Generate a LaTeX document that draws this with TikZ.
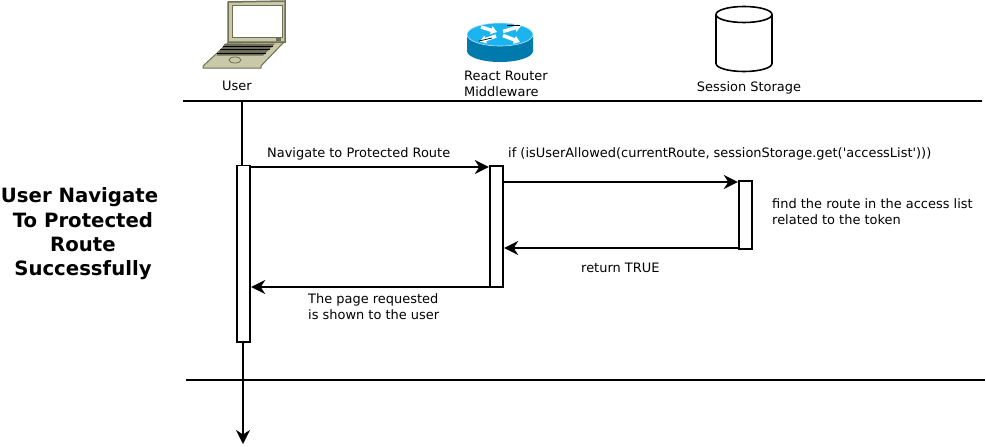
\documentclass[tikz,border=0pt]{standalone}
\usepackage{fontspec}
\setmainfont{DejaVu Sans}
\usetikzlibrary{arrows.meta}
\definecolor{lapbody}{HTML}{C9C9A9}
\definecolor{lapedge}{HTML}{6E6E55}
\definecolor{routertop}{HTML}{1BB4EE}
\definecolor{routerside}{HTML}{0079AC}
\tikzset{
  lbl/.style={inner sep=0pt,font=\fontsize{12.95}{16}\selectfont,align=left},
  bar/.style={draw,line width=1.8pt,fill=white,minimum width=13.6pt,inner sep=0pt},
  msg/.style={line width=1.8pt,-{Stealth[length=14pt,width=14pt,inset=4.5pt]}},
  rule/.style={line width=1.8pt},
  turn/.style={line width=3.5pt,white,-{Triangle[length=6pt,width=8pt]}}
}
\begin{document}
\begin{tikzpicture}[x=1pt,y=-1pt]
      \useasboundingbox (0,0) rectangle (986,447);
      % laptop
      \filldraw[fill=lapbody,draw=lapedge,line width=1pt] (203,66) -- (228,43) -- (284,42) -- (261,66) -- (261,68) -- (203,68) -- cycle;
      \filldraw[fill=lapbody,draw=lapedge,line width=1.5pt] (228,2) -- (285,1) -- (285,42) -- (228,42) -- cycle;
      \filldraw[fill=white,draw=lapedge,line width=1pt] (232,5) rectangle (282,37);
      \fill[lapedge] (276,38) rectangle (281,41);
      \fill[lapedge] (225,43.5) -- (275,43.5) -- (263,55.5) -- (216.5,55.5) -- cycle;
      \foreach \y/\xa/\xb in {46/223/273,49.5/220/270,53/217/266}
        \draw[line width=1pt,black] (\xa,\y) -- (\xb,\y);
      \draw[lapedge,line width=0.8pt] (235,60) ellipse (6 and 3);
      % router
      \fill[routerside] (467,34.5) -- (467,51) arc[start angle=180,end angle=0,x radius=33,y radius=11] -- (533,34.5) -- cycle;
      \filldraw[fill=routertop,draw=white!70!routertop,line width=0.6pt] (500,34.5) ellipse (33 and 11.5);
      \draw[turn] (481,27) -- (497,32);
      \draw[turn] (503,31.5) -- (521,26);
      \draw[turn] (496,36) -- (480,41.5);
      \draw[turn] (503,35.5) -- (520,42);
      \draw[black,line width=0.7pt] (507,25.3) -- (520,25.3);
      \draw[black,line width=0.7pt] (479,41) -- (492,38);
      % storage
      \draw[line width=1.6pt] (716,14.5) -- (716,63.5) arc[start angle=180,end angle=0,x radius=28,y radius=8] -- (772,14.5);
      \draw[line width=1.6pt] (744,14.5) ellipse (28 and 8);
      % labels
      \node at (237,86)[lbl] (userlbl){User};
      \node at (464,84)[lbl,anchor=west] (routerlbl){React Router\\Middleware};
      \node at (749,88)[lbl] (storagelbl){Session Storage};
      \node at (83,234)[inner sep=0pt,align=center,font=\bfseries\fontsize{19.7}{24.3}\selectfont] (title){\mbox{User Navigate\ }\\To Protected\\Route\\Successfully};
      % rules
      \coordinate (r1a) at (183,101);
      \coordinate (r1b) at (982,101);
      \coordinate (r2a) at (186,380);
      \coordinate (r2b) at (985,380);
      \draw[rule] (r1a) -- (r1b);
      \draw[rule] (r2a) -- (r2b);
      % bars
      \node at (243.5,253.7)[bar,minimum height=176.5pt] (user){};
      \node at (496.5,226.5)[bar,minimum height=121pt] (router){};
      \node at (745.5,215)[bar,minimum height=68pt] (storage){};
      \coordinate (top) at (242,101);
      \coordinate (end) at (243,444);
      \draw[rule] (top) -- (top |- user.north);
      \draw[msg] (end |- user.south) -- (end);
      % messages
      \draw[msg] (user.east |- 0,167) -- (router.west |- 0,167);
      \draw[msg] (router.east |- 0,182) -- (storage.west |- 0,182);
      \draw[msg] (storage.west |- 0,248) -- (router.east |- 0,248);
      \draw[msg] (router.west |- 0,287) -- (user.east |- 0,287);
      \node at (267,153.5)[lbl,anchor=west] (navlbl){Navigate to Protected Route};
      \node at (508,153.5)[lbl,anchor=west] (iflbl){if (isUserAllowed(currentRoute, sessionStorage.get(\textquotesingle accessList\textquotesingle)))};
      \node at (772,212)[lbl,anchor=west] (findlbl){find the route in the access list\\related to the token};
      \node at (581,268)[lbl,anchor=west] (truelbl){return TRUE};
      \node at (308,307)[lbl,anchor=west] (pagelbl){The page requested\\is shown to the user};
\end{tikzpicture}
\end{document}
